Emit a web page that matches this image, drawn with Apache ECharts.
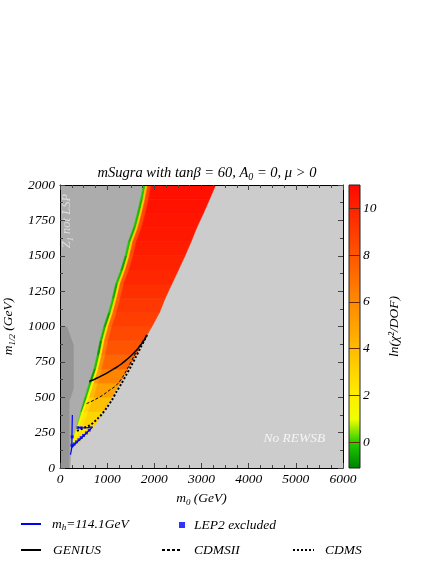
<!DOCTYPE html>
<html>
<head>
<meta charset="utf-8">
<script src="https://cdn.jsdelivr.net/npm/echarts@6/dist/echarts.min.js"></script>
<style>
  html, body { margin: 0; padding: 0; background: #fff; }
  #chart { width: 436px; height: 564px; }
</style>
</head>
<body>
<div id="chart"></div>
<script>
// m1/2 levels (GeV) where the allowed wedge is sampled
const m12Levels = [150, 200, 300, 400, 500, 600, 700, 800, 900, 1000, 1100, 1200, 1300, 1400, 1500, 1600, 1700, 1800, 1900, 2000];
// m0 (GeV) of the zone borders across the wedge, one per level
const wedgeLeft  = [255, 280, 360, 440, 530, 620, 720, 790, 850, 930, 1030, 1110, 1180, 1290, 1380, 1450, 1560, 1640, 1710, 1770];
const greenEnd   = [255, 280, 375, 470, 575, 670, 770, 840, 900, 980, 1080, 1160, 1230, 1340, 1430, 1500, 1610, 1690, 1760, 1815];
const yellowEnd  = [255, 300, 420, 520, 625, 720, 815, 885, 945, 1025, 1125, 1205, 1275, 1385, 1475, 1545, 1655, 1735, 1805, 1860];
const orangeEnd  = [255, 340, 490, 600, 720, 800, 890, 960, 1020, 1100, 1200, 1280, 1350, 1460, 1550, 1620, 1730, 1810, 1880, 1930];
const wedgeRight = [255, 470, 740, 920, 1100, 1270, 1440, 1610, 1775, 1950, 2110, 2230, 2370, 2510, 2650, 2780, 2900, 3040, 3170, 3300];

// ln(chi2/DOF) in each strip (between two levels), per zone
const chiGreen  = [1.0, 0.6, 0.2, -0.4, -0.1, -0.7, -0.2, -0.8, -0.3, -0.6, -0.1, -0.5, -0.2, -0.6, -0.1, -0.4, -0.2, -0.3, -0.1];
const chiYellow = [1.4, 1.5, 1.6, 1.7, 1.8, 2.0, 2.2, 2.4, 2.6, 2.8, 3.0, 3.0, 3.2, 3.2, 3.4, 3.4, 3.6, 3.6, 3.8];
const chiOrange = [1.6, 1.9, 2.4, 3.0, 4.0, 5.2, 6.0, 6.6, 7.0, 7.3, 7.6, 7.8, 8.0, 8.2, 8.3, 8.4, 8.5, 8.6, 8.7];
const chiCore   = [1.8, 2.4, 3.0, 3.8, 5.0, 6.2, 7.3, 8.0, 8.5, 8.9, 9.2, 9.5, 9.8, 10.0, 10.2, 10.4, 10.5, 10.6, 10.7];

// excluded regions (m0, m1/2)
const darkM0  = [0, 0, 150, 290, 290, 200, 200];
const darkM12 = [0, 1000, 1000, 870, 560, 470, 0];

// contours
const mhM0 = [262, 255, 250, 220];
const mhM12 = [375, 260, 145, 95];
const mhEdgeM0 = [250, 400, 540, 690];
const mhEdgeM12 = [145, 195, 240, 290];
const mhBarM0 = [375, 520, 690];
const mhBarM12 = [288, 284, 290];
const lep2M0 = [255, 258, 300, 350, 400, 450, 500, 560, 620, 380, 450];
const lep2M12 = [160, 220, 170, 185, 200, 215, 230, 248, 268, 285, 284];
const geniusM0 = [620, 700, 800, 900, 1000, 1100, 1200, 1300, 1400, 1500, 1600, 1700, 1790, 1844];
const geniusM12 = [612, 622, 638, 655, 672, 692, 712, 735, 762, 792, 825, 865, 905, 940];
const cdms2M0 = [560, 650, 750, 850, 950, 1050, 1150, 1250, 1350, 1450, 1560, 1680, 1844];
const cdms2M12 = [455, 468, 485, 503, 525, 550, 572, 605, 655, 715, 785, 860, 940];
const cdmsM0 = [360, 450, 550, 650, 720, 800, 900, 1000, 1100, 1200, 1300, 1400, 1500, 1600, 1700, 1800, 1844];
const cdmsM12 = [262, 275, 290, 305, 325, 350, 385, 430, 480, 540, 595, 655, 715, 780, 845, 910, 940];

// colour bar
const cbarMin = -1.1;
const cbarMax = 11;
const cbarValues = [-1, 0, 1, 2, 3, 4, 5, 6, 7, 8, 9, 10, 11];
const cbarColors = ['#008800', '#22cc00', '#f0ff00', '#ffee00', '#ffd500', '#ffbb00', '#ffa200',
                    '#ff8a00', '#ff7000', '#ff5500', '#ff3c00', '#ff2200', '#ff0800'];
const cbarTicks = [0, 2, 4, 6, 8, 10];

const serif = "'Liberation Serif', 'DejaVu Serif', serif";
const rich = {
  i: { fontFamily: serif, fontStyle: 'italic', fontWeight: 'normal', fontSize: 13.5, color: '#000' },
  s: { fontFamily: serif, fontStyle: 'italic', fontWeight: 'normal', fontSize: 9, color: '#000', padding: [8, 0, 0, 0] }
};
const titleRich = {
  i: Object.assign({}, rich.i, { fontSize: 14.5 }),
  s: Object.assign({}, rich.s, { fontSize: 10 })
};
const zip = (a, b) => a.map((v, i) => [v, b[i]]);

const chart = echarts.init(document.getElementById('chart'));

const zoneCurves = [wedgeLeft, greenEnd, yellowEnd, orangeEnd, wedgeRight];
const zoneChi = [chiGreen, chiYellow, chiOrange, chiCore];
const wedgeData = [];
zoneChi.forEach((vals, z) => vals.forEach((v, i) => wedgeData.push([i, z, v])));

// "Z1 not LSP" region: left of the wedge
const stauPoly = [[0, 0], [0, 2000]]
  .concat(zip(wedgeLeft, m12Levels).reverse())
  .concat([[215, 0]]);
const darkPoly = zip(darkM0, darkM12);

function polySeries(points, color) {
  return {
    type: 'custom', xAxisIndex: 0, yAxisIndex: 0, silent: true, clip: true,
    data: [[0, 0]],
    renderItem: (params, api) => ({
      type: 'polygon',
      shape: { points: points.map(p => api.coord(p)) },
      style: { fill: color }
    })
  };
}

const axisFont = { fontFamily: serif, fontStyle: 'italic', fontSize: 13.5, color: '#000', formatter: v => String(v) };
const tickStyle = { color: '#444', width: 1 };

function frameAxis(extra) {
  return Object.assign({
    type: 'value', z: 6,
    axisLine: { show: true, onZero: false, lineStyle: { color: '#000' } },
    axisTick: { inside: true, length: 5, lineStyle: tickStyle },
    minorTick: { show: true, length: 3, lineStyle: tickStyle },
    splitLine: { show: false }
  }, extra);
}

function lineSeries(name, m0, m12, color, width, type) {
  return {
    name: name, type: 'line', xAxisIndex: 0, yAxisIndex: 0,
    data: zip(m0, m12), symbol: 'none', smooth: 0.3,
    lineStyle: { color: color, width: width, type: type },
    itemStyle: { color: color }, z: 4
  };
}

function legendOne(name, left, top, w, h, pad, fmt, hideSymbol) {
  const lg = {
    data: [name], left: left, top: top, itemWidth: w, itemHeight: h,
    formatter: () => fmt, selectedMode: false,
    textStyle: { rich: rich, padding: [0, 0, 0, pad] }
  };
  if (hideSymbol) lg.itemStyle = { opacity: 0 };
  return lg;
}

chart.setOption({
  animation: false,
  title: {
    text: '{i|mSugra with tanβ = 60, A}{s|0}{i| = 0, μ > 0}',
    left: 202, top: 159, textAlign: 'center',
    textStyle: { rich: titleRich, fontWeight: 'normal' }
  },
  grid: [
    { left: 60, top: 185, width: 283, height: 283, show: true, backgroundColor: '#cccccc', borderWidth: 0, outerBoundsMode: 'none' },
    { left: 349, top: 185, width: 11, height: 283, outerBoundsMode: 'none' }
  ],
  xAxis: [
    frameAxis({
      gridIndex: 0, min: 0, max: 6000, interval: 1000, position: 'bottom',
      minorTick: { show: true, splitNumber: 4, length: 3, lineStyle: tickStyle },
      axisLabel: Object.assign({ margin: 4 }, axisFont),
      name: '{i|m}{s|0}{i| (GeV)}', nameLocation: 'middle', nameGap: 22,
      nameTextStyle: { rich: rich }
    }),
    frameAxis({
      gridIndex: 0, min: 0, max: 6000, interval: 1000, position: 'top',
      minorTick: { show: true, splitNumber: 4, length: 3, lineStyle: tickStyle },
      axisLabel: { show: false }
    }),
    { gridIndex: 1, type: 'value', min: 0, max: 1, show: false }
  ],
  yAxis: [
    frameAxis({
      gridIndex: 0, min: 0, max: 2000, interval: 250, position: 'left',
      minorTick: { show: true, splitNumber: 2, length: 3, lineStyle: tickStyle },
      axisLabel: Object.assign({ margin: 5 }, axisFont),
      name: '{i|m}{s|1/2}{i| (GeV)}', nameLocation: 'middle', nameGap: 32, nameRotate: 90,
      nameTextStyle: { rich: rich }
    }),
    frameAxis({
      gridIndex: 0, min: 0, max: 2000, interval: 250, position: 'right',
      minorTick: { show: true, splitNumber: 2, length: 3, lineStyle: tickStyle },
      axisLabel: { show: false }
    }),
    {
      gridIndex: 1, type: 'value', min: cbarMin, max: cbarMax, position: 'right', z: 6,
      axisLine: { show: false, onZero: false },
      axisTick: { inside: true, length: 11, customValues: cbarTicks, lineStyle: { color: '#6a2800', width: 1 } },
      splitLine: { show: false },
      axisLabel: Object.assign({ margin: 3, customValues: cbarTicks }, axisFont),
      name: 'ln(χ²/DOF)', nameLocation: 'middle', nameGap: 27, nameRotate: 90,
      nameTextStyle: axisFont
    }
  ],
  visualMap: {
    type: 'continuous', show: false, seriesIndex: 2, dimension: 2,
    min: cbarValues[0], max: cbarValues[cbarValues.length - 1],
    inRange: { color: cbarColors }
  },
  legend: [
    legendOne('mh', 15, 512, 20, 10, 6, '{i|m}{s|h}{i|=114.1GeV}', true),
    legendOne('LEP2', 174, 513, 6, 6, 4, '{i|LEP2 excluded}', false),
    legendOne('GENIUS', 15, 538, 20, 10, 7, '{i|GENIUS}', true),
    legendOne('CDMSII', 156, 538, 18, 10, 9, '{i|CDMSII}', true),
    legendOne('CDMS', 287, 538, 21, 10, 6, '{i|CDMS}', true)
  ],
  series: [
    polySeries(stauPoly, '#acacac'),
    polySeries(darkPoly, '#959595'),
    {
      type: 'custom', xAxisIndex: 0, yAxisIndex: 0, silent: true, clip: true,
      data: wedgeData,
      renderItem: (params, api) => {
        const i = api.value(0), z = api.value(1);
        const a = zoneCurves[z], b = zoneCurves[z + 1];
        const pts = [[a[i], m12Levels[i]], [a[i + 1], m12Levels[i + 1]],
                     [b[i + 1], m12Levels[i + 1]], [b[i], m12Levels[i]]].map(p => api.coord(p));
        const c = api.visual('color');
        return { type: 'polygon', shape: { points: pts }, style: { fill: c, stroke: c, lineWidth: 0.6 } };
      }
    },
    lineSeries('mh', mhM0, mhM12, '#0000ff', 1.2, 'solid'),
    lineSeries('mh', mhEdgeM0, mhEdgeM12, '#0000ff', 1.2, 'solid'),
    lineSeries('mh', mhBarM0, mhBarM12, '#0000ff', 1.2, 'solid'),
    {
      name: 'LEP2', type: 'scatter', xAxisIndex: 0, yAxisIndex: 0,
      data: zip(lep2M0, lep2M12), symbol: 'rect', symbolSize: 3,
      itemStyle: { color: '#0000ff' }, z: 4
    },
    lineSeries('GENIUS', geniusM0, geniusM12, '#000', 1.5, 'solid'),
    lineSeries('CDMSII', cdms2M0, cdms2M12, '#000', 1, [3, 2]),
    lineSeries('CDMS', cdmsM0, cdmsM12, '#000', 2, [2, 2]),
    {
      type: 'scatter', xAxisIndex: 0, yAxisIndex: 0, silent: true, symbolSize: 0,
      data: [[150, 1745]],
      label: {
        show: true, position: 'inside', rotate: 90,
        formatter: '{w|Z̃}{ws|1}{w| not LSP}',
        rich: {
          w: { fontFamily: serif, fontStyle: 'italic', fontSize: 12.5, color: '#e8e8e8' },
          ws: { fontFamily: serif, fontStyle: 'italic', fontSize: 8.5, color: '#e8e8e8', padding: [7, 0, 0, 0] }
        }
      }
    },
    {
      type: 'scatter', xAxisIndex: 0, yAxisIndex: 0, silent: true, symbolSize: 0,
      data: [[4970, 212]],
      label: {
        show: true, position: 'inside', formatter: 'No REWSB',
        fontFamily: serif, fontStyle: 'italic', fontSize: 13.5, color: '#ffffff'
      }
    },
    {
      type: 'custom', xAxisIndex: 2, yAxisIndex: 2, silent: true,
      data: [[0, 0]],
      renderItem: (params, api) => {
        const p0 = api.coord([0, cbarMax]);
        const p1 = api.coord([1, cbarMin]);
        const span = cbarMax - cbarMin;
        const stops = cbarValues.map((v, k) => ({
          offset: Math.min(1, Math.max(0, (v - cbarMin) / span)), color: cbarColors[k]
        }));
        stops.unshift({ offset: 0, color: cbarColors[0] });
        return {
          type: 'rect',
          shape: { x: p0[0], y: p0[1], width: p1[0] - p0[0], height: p1[1] - p0[1] },
          style: { fill: new echarts.graphic.LinearGradient(0, 1, 0, 0, stops), stroke: '#222', lineWidth: 1 }
        };
      }
    }
  ]
});
</script>
</body>
</html>
